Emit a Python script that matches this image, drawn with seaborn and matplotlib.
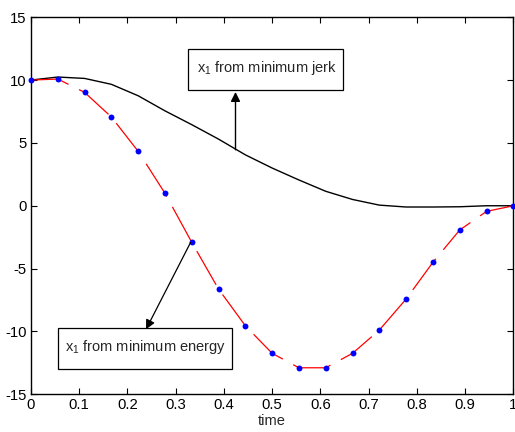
import numpy as np
import pandas as pd
import matplotlib
matplotlib.use("Agg")
import matplotlib.pyplot as plt
import seaborn as sns
from matplotlib.patches import Rectangle

# ---- data ----
time = [i / 18 for i in range(19)]
x1_min_energy = [10.0, 10.08, 9.02, 7.06, 4.33, 0.99, -2.91, -6.63, -9.55, -11.74,
                 -12.89, -12.89, -11.74, -9.89, -7.42, -4.50, -1.93, -0.45, 0.0]
x1_min_jerk = [10.0, 10.24, 10.13, 9.66, 8.75, 7.55, 6.45, 5.3, 4.05, 3.0,
               2.05, 1.15, 0.5, 0.05, -0.1, -0.1, -0.08, 0.0, 0.0]
x_ticks = [0, 0.1, 0.2, 0.3, 0.4, 0.5, 0.6, 0.7, 0.8, 0.9, 1]
x_tick_labels = ["0", "0.1", "0.2", "0.3", "0.4", "0.5", "0.6", "0.7", "0.8", "0.9", "1"]
y_ticks = [-15, -10, -5, 0, 5, 10, 15]
y_tick_labels = ["-15", "-10", "-5", "0", "5", "10", "15"]
label_jerk = "x$_{\\mathregular{1}}$ from minimum jerk"
label_energy = "x$_{\\mathregular{1}}$ from minimum energy"

df = pd.DataFrame({"time": time, "energy": x1_min_energy, "jerk": x1_min_jerk})

sns.set_style("ticks")
plt.rcParams["font.family"] = ["Liberation Sans", "DejaVu Sans"]
plt.rcParams["axes.unicode_minus"] = False
plt.rcParams["mathtext.fontset"] = "custom"
plt.rcParams["mathtext.rm"] = "Liberation Sans"
plt.rcParams["mathtext.default"] = "regular"

fig = plt.figure(figsize=(5.15, 4.32), dpi=100)
ax = fig.add_axes([31 / 515, (432 - 394.3) / 432, (513.3 - 31) / 515, (394.3 - 17.2) / 432])

sns.lineplot(data=df, x="time", y="jerk", color="black", linewidth=1.0, ax=ax)
sns.lineplot(data=df, x="time", y="energy", color="red", linewidth=0.9, ax=ax)
ax.lines[1].set_dashes((31, 9.4))
sns.scatterplot(data=df, x="time", y="energy", color="blue", s=18, linewidth=0,
                ax=ax, zorder=3, clip_on=False)

ax.set_xlim(0, 1)
ax.set_ylim(-15, 15)
ax.set_xticks(x_ticks)
ax.set_xticklabels(x_tick_labels)
ax.set_yticks(y_ticks)
ax.set_yticklabels(y_tick_labels)
ax.set_xlabel("time", fontsize=10.5, labelpad=1)
ax.set_ylabel("")
ax.tick_params(direction="in", length=4, width=0.8, labelsize=10.7, top=True, right=True,
               pad=3, colors="black")
for s in ax.spines.values():
    s.set_visible(True)
    s.set_linewidth(1.0)
    s.set_color("black")

# annotation boxes
ax.add_patch(Rectangle((0.3255, 9.2), 0.647 - 0.3255, 12.44 - 9.2, fill=True,
                       facecolor="white", edgecolor="black", linewidth=0.9, zorder=4))
ax.text(0.3255 + 0.019, (9.2 + 12.44) / 2 + 0.1, label_jerk, fontsize=10.5, va="center",
        ha="left", zorder=5)
ax.add_patch(Rectangle((0.0553, -13.0), 0.417 - 0.0553, 3.3, fill=True,
                       facecolor="white", edgecolor="black", linewidth=0.9, zorder=4))
ax.text(0.0553 + 0.016, -11.25, label_energy, fontsize=10.5, va="center",
        ha="left", zorder=5)

ax.annotate("", xy=(0.424, 9.05), xytext=(0.424, 4.45),
            arrowprops=dict(arrowstyle="-|>", color="black", lw=1.0,
                            mutation_scale=14, shrinkA=0, shrinkB=0))
ax.annotate("", xy=(0.2385, -9.83), xytext=(0.331, -2.91),
            arrowprops=dict(arrowstyle="-|>", color="black", lw=0.9,
                            mutation_scale=14, shrinkA=0, shrinkB=0))

fig.savefig("out.png", dpi=100)
